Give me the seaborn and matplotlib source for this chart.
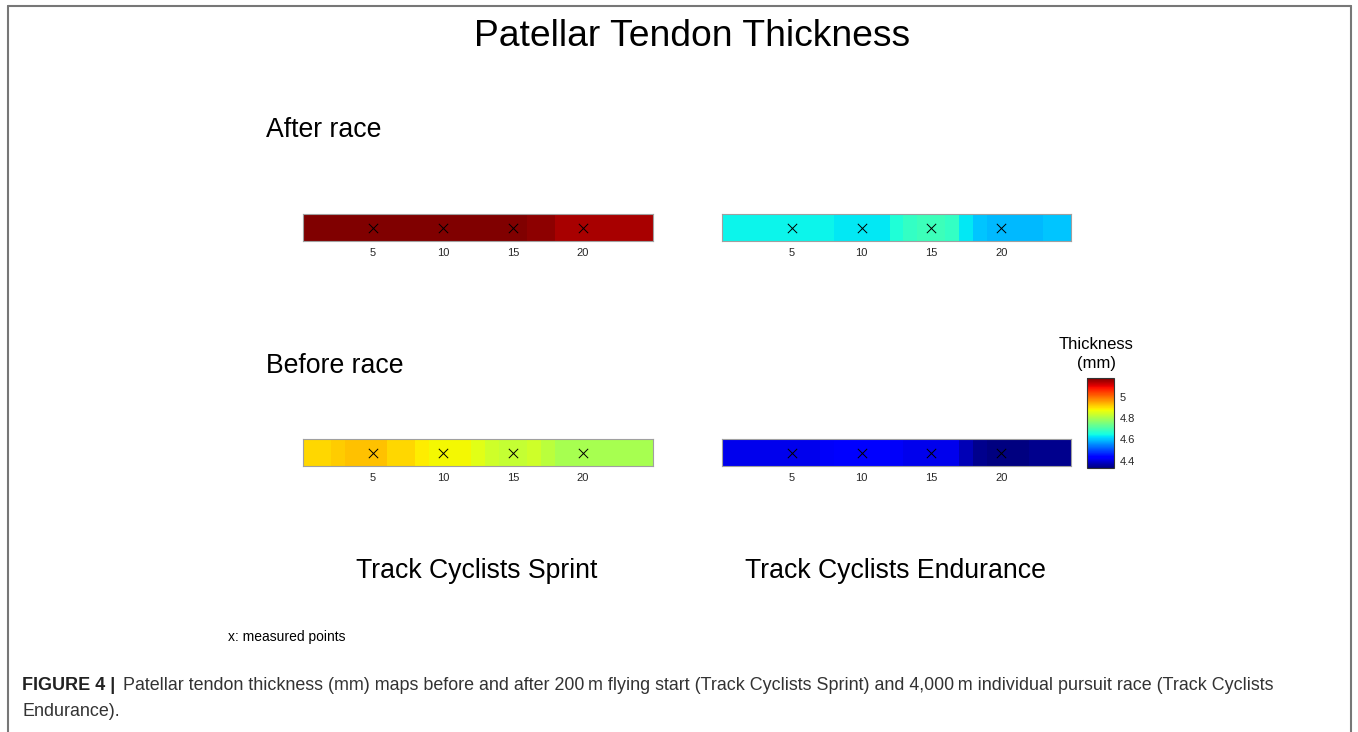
import numpy as np
import matplotlib
matplotlib.use('Agg')
import matplotlib.pyplot as plt
from matplotlib.lines import Line2D
from matplotlib.cm import ScalarMappable
from matplotlib.colors import Normalize
import seaborn as sns

sns.set_style('white')
plt.rcParams['font.family'] = ['Liberation Sans', 'DejaVu Sans']
plt.rcParams['text.color'] = 'black'

# measured points along the tendon and their tick labels
positions = [5, 10, 15, 20]
tick_labels = ['5', '10', '15', '20']

# thickness (mm) read per 1-unit column, 0..25
sprint_after = [5.19, 5.19, 5.19, 5.19, 5.19, 5.19, 5.19, 5.19, 5.19, 5.19,
                5.19, 5.19, 5.19, 5.19, 5.19, 5.19, 5.17, 5.17, 5.15, 5.15,
                5.15, 5.15, 5.15, 5.15, 5.15]
endurance_after = [4.64, 4.64, 4.64, 4.64, 4.64, 4.64, 4.64, 4.64, 4.63, 4.63,
                   4.63, 4.63, 4.66, 4.68, 4.69, 4.69, 4.68, 4.63, 4.60, 4.59,
                   4.59, 4.59, 4.59, 4.60, 4.60]
sprint_before = [4.91, 4.91, 4.92, 4.93, 4.93, 4.93, 4.91, 4.91, 4.89, 4.88,
                 4.88, 4.88, 4.86, 4.84, 4.83, 4.83, 4.84, 4.82, 4.80, 4.80,
                 4.80, 4.80, 4.80, 4.80, 4.80]
endurance_before = [4.41, 4.41, 4.41, 4.41, 4.41, 4.41, 4.41, 4.42, 4.43, 4.43,
                    4.43, 4.43, 4.42, 4.41, 4.41, 4.41, 4.41, 4.37, 4.34, 4.33,
                    4.33, 4.33, 4.34, 4.34, 4.34]

vmin, vmax = 4.33, 5.18
cbar_ticks = [4.4, 4.6, 4.8, 5.0]
cbar_labels = ['4.4', '4.6', '4.8', '5']

W, H = 1358, 732
fig = plt.figure(figsize=(W / 100, H / 100), dpi=100)


def px(x0, y0, x1, y1):
    # pixel box (top-left origin) -> figure rect
    return [x0 / W, 1 - y1 / H, (x1 - x0) / W, (y1 - y0) / H]


def strip(rect, values):
    ax = fig.add_axes(rect)
    sns.heatmap(np.array([values]), ax=ax, cmap='jet', vmin=vmin, vmax=vmax,
                cbar=False, xticklabels=False, yticklabels=False)
    ax.scatter(positions, [0.5] * len(positions), marker='x', color='black',
               s=45, linewidths=0.7, zorder=3)
    ax.set_xlim(0, len(values))
    ax.set_ylim(1, 0)
    ax.set_xticks(positions)
    ax.set_xticklabels(tick_labels, fontsize=8, color='#262626')
    ax.set_yticks([])
    ax.tick_params(axis='x', direction='in', length=3, width=0.6, pad=5,
                   bottom=True, color='#333333')
    for sp in ax.spines.values():
        sp.set_visible(True)
        sp.set_color('#a0a0a0')
        sp.set_linewidth(0.8)
    return ax


strip(px(303, 214, 653, 241), sprint_after)
strip(px(722, 214, 1071, 241), endurance_after)
strip(px(303, 439, 653, 466), sprint_before)
strip(px(722, 439, 1071, 466), endurance_before)

# colorbar
cax = fig.add_axes(px(1087, 378, 1114, 468))
sm = ScalarMappable(norm=Normalize(vmin, vmax), cmap='jet')
cb = fig.colorbar(sm, cax=cax, ticks=cbar_ticks)
cb.ax.set_yticklabels(cbar_labels, fontsize=8, color='#262626')
cb.ax.tick_params(length=0, pad=4)
cb.outline.set_edgecolor('#333333')
cb.outline.set_linewidth(0.8)
fig.text(1096 / W, 1 - 354 / H, 'Thickness\n(mm)', ha='center', va='center',
         fontsize=12, linespacing=1.3)

# titles and labels
fig.text(692 / W, 1 - 37 / H, 'Patellar Tendon Thickness', ha='center',
         va='center', fontsize=26.8)
fig.text(266 / W, 1 - 130 / H, 'After race', ha='left', va='center', fontsize=19.2)
fig.text(266 / W, 1 - 366 / H, 'Before race', ha='left', va='center', fontsize=19.2)
fig.text(477 / W, 1 - 571 / H, 'Track Cyclists Sprint', ha='center',
         va='center', fontsize=19.2)
fig.text(895 / W, 1 - 571 / H, 'Track Cyclists Endurance', ha='center',
         va='center', fontsize=19.2)
fig.text(228 / W, 1 - 637 / H, 'x: measured points', ha='left', va='center',
         fontsize=10)

# caption
cap_font = ['Liberation Sans', 'DejaVu Sans']
fig.text(22 / W, 1 - 685 / H, 'FIGURE 4 |', ha='left', va='center',
         fontsize=13, fontweight='bold', family=cap_font, color='#222222')
fig.text(123 / W, 1 - 685 / H,
         'Patellar tendon thickness (mm) maps before and after 200\u2009m flying start '
         '(Track Cyclists Sprint) and 4,000\u2009m individual pursuit race (Track Cyclists',
         ha='left', va='center', fontsize=12.85, family=cap_font, color='#333333')
fig.text(22 / W, 1 - 711 / H, 'Endurance).', ha='left', va='center',
         fontsize=12.85, family=cap_font, color='#333333')

# frame around the figure panel
for xs, ys in [([7.5, 7.5], [H, 6]), ([7.5, 1350.5], [6, 6]), ([1350.5, 1350.5], [6, H])]:
    fig.add_artist(Line2D([x / W for x in xs], [1 - y / H for y in ys],
                          transform=fig.transFigure, color='#777777', lw=1.5))

fig.savefig('out.png', dpi=100)
